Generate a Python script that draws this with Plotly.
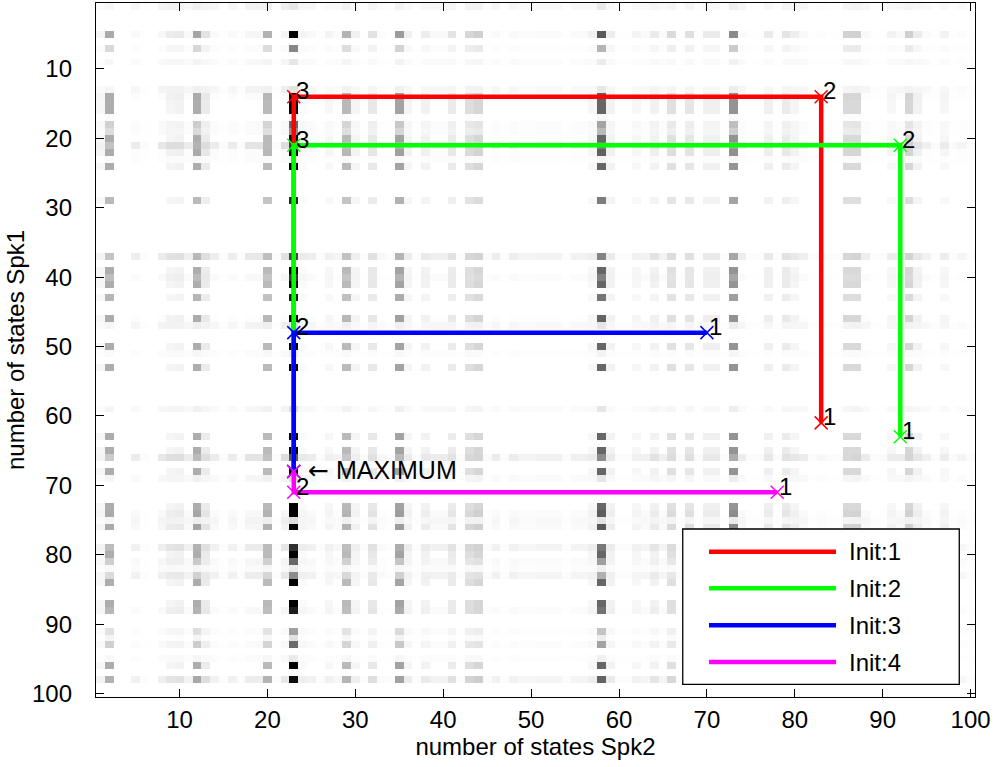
import numpy as np
import plotly.graph_objects as go

# ---------------- data ----------------
n_spk2 = 100   # columns (x)
n_spk1 = 100   # rows (y)

# vertical-stripe component: row weight and column weight (darkness)
row_stripe = {1: 0.03, 5: 1.0, 7: 0.45, 9: 0.06, 13: 0.04, 14: 1.0, 15: 1.0, 16: 1.0,
              17: 0.05, 18: 0.55, 19: 0.4, 20: 1.0, 21: 0.6, 22: 1.0, 23: 0.04, 24: 1.0,
              29: 0.85, 37: 0.6, 39: 1.0, 40: 0.75, 41: 1.0, 43: 0.9, 46: 1.0, 47: 0.05,
              50: 1.0, 51: 0.04, 53: 1.0, 59: 0.08, 63: 1.0, 65: 1.0, 66: 0.5, 68: 1.0,
              69: 0.08, 73: 1.0, 74: 1.0, 75: 0.06, 76: 1.0, 79: 0.7, 80: 1.0, 81: 0.55,
              82: 0.05, 83: 0.35, 84: 1.0, 87: 1.0, 88: 0.85, 91: 0.35, 92: 0.12, 93: 0.55,
              95: 0.06, 96: 1.0, 98: 0.85}
col_stripe = {1: 0.03, 2: 0.32, 9: 0.04, 10: 0.05, 12: 0.32, 13: 0.08, 20: 0.27, 23: 1.0,
              24: 0.02, 27: 0.03, 29: 0.27, 30: 0.04, 32: 0.09, 35: 0.36, 36: 0.04, 38: 0.05,
              41: 0.08, 43: 0.13, 44: 0.16, 57: 0.03, 58: 0.6, 59: 0.05, 62: 0.03, 64: 0.05,
              66: 0.12, 68: 0.1, 70: 0.06, 71: 0.06, 73: 0.42, 77: 0.06, 79: 0.08, 80: 0.04,
              86: 0.15, 87: 0.15, 91: 0.03, 93: 0.16, 94: 0.05, 97: 0.03}

# horizontal-band component: row weight and column weight (darkness)
row_band = {1: 0.35, 5: 0.25, 7: 0.1, 9: 0.2, 13: 0.35, 14: 0.1, 18: 0.15, 19: 0.15,
            21: 0.75, 22: 0.1, 23: 0.1, 37: 0.65, 40: 0.2, 46: 0.06, 47: 0.35, 51: 0.12,
            59: 0.25, 66: 0.75, 69: 0.25, 74: 0.2, 75: 0.35, 76: 0.25, 79: 0.55, 81: 0.25,
            82: 0.15, 83: 0.5, 88: 0.2, 91: 0.12, 93: 0.15, 95: 0.12, 98: 0.5}
col_band = [0.04, 0.06, 0, 0, 0.1, 0.02, 0, 0.12, 0.14, 0.14,
            0.1, 0.14, 0.12, 0.1, 0.02, 0.1, 0.02, 0.14, 0.14, 0.14,
            0.02, 0.18, 0.2, 0.1, 0.1, 0.02, 0.06, 0.06, 0.12, 0.06,
            0.02, 0.1, 0.04, 0.02, 0.12, 0.08, 0.02, 0.08, 0.1, 0.1,
            0.1, 0.02, 0.12, 0.12, 0.03, 0.1, 0.02, 0.1, 0.06, 0.06,
            0.08, 0.08, 0.08, 0.02, 0.08, 0.08, 0.08, 0.2, 0.08, 0.02,
            0.02, 0.06, 0.08, 0.12, 0.08, 0.1, 0.02, 0.1, 0.02, 0.08,
            0.08, 0.02, 0.15, 0.1, 0.02, 0.02, 0.08, 0.02, 0.1, 0.1,
            0.1, 0.02, 0.04, 0.02, 0.02, 0.1, 0.12, 0.1, 0.02, 0.02,
            0.08, 0.1, 0.12, 0.1, 0.08, 0.02, 0.08, 0.02, 0.06, 0.02]

# search paths (x = states Spk2, y = states Spk1)
series_names = ["Init:1", "Init:2", "Init:3", "Init:4"]
series_colors = ["#ff0000", "#00ff00", "#0000ff", "#ff00ff"]
path_x = [[83, 83, 23, 23], [92, 92, 23, 23], [70, 23, 23], [78, 23, 23]]
path_y = [[61, 14, 14, 68], [63, 21, 21, 68], [48, 48, 68], [71, 71, 68]]
path_labels = [["1", "2", "3", ""], ["1", "2", "3", ""], ["1", "2", ""], ["1", "2", ""]]
max_point = (23, 68)
max_text = "<span style='font-family:DejaVu Sans'>\u2190</span> MAXIMUM"

tick_vals = list(range(10, 101, 10))
x_title = "number of states Spk2"
y_title = "number of states Spk1"

# ---------------- build figure ----------------
xs = np.arange(1, n_spk2 + 1)
ys = np.arange(1, n_spk1 + 1)
rv = np.array([row_stripe.get(i, 0.0) for i in ys])
cv = np.array([col_stripe.get(j, 0.0) for j in xs])
rb = np.array([row_band.get(i, 0.0) for i in ys])
cb = np.array(col_band)
z = np.clip(np.outer(rv, cv) + np.outer(rb, cb), 0, 1)

FONT = "Liberation Sans, Arial, Helvetica, sans-serif"
FS = 24

fig = go.Figure()
fig.add_trace(go.Heatmap(x=xs, y=ys, z=z, zmin=0, zmax=1,
                         colorscale=[[0, "#ffffff"], [1, "#000000"]],
                         showscale=False, hoverinfo="skip"))

for name, col, px, py in zip(series_names, series_colors, path_x, path_y):
    fig.add_trace(go.Scatter(x=px, y=py, mode="lines+markers", name=name,
                             line=dict(color=col, width=4.5),
                             marker=dict(symbol="x-thin", size=13,
                                         line=dict(color=col, width=1.5)),
                             showlegend=False))

annotations = []
for px, py, labs in zip(path_x, path_y, path_labels):
    for xv, yv, t in zip(px, py, labs):
        if t:
            annotations.append(dict(x=xv, y=yv, text=t, showarrow=False,
                                    xanchor="left", yanchor="middle",
                                    xshift=0, yshift=6,
                                    font=dict(family=FONT, size=FS, color="black")))
annotations.append(dict(x=max_point[0], y=max_point[1], text=max_text, showarrow=False,
                        xanchor="left", yanchor="middle", xshift=12, yshift=1,
                        font=dict(family=FONT, size=FS + 1, color="black")))

# manual legend (paper coordinates)
shapes = [dict(type="rect", xref="paper", yref="paper", x0=0.6675, x1=0.9821,
               y0=0.0183, y1=0.2421, line=dict(color="black", width=1.3),
               fillcolor="white", layer="above")]
leg_y = [0.2094, 0.1566, 0.1033, 0.0504]
for name, col, ly in zip(series_names, series_colors, leg_y):
    shapes.append(dict(type="line", xref="paper", yref="paper", x0=0.6974, x1=0.8419,
                       y0=ly, y1=ly, line=dict(color=col, width=4.5), layer="above"))
    annotations.append(dict(xref="paper", yref="paper", x=0.8545, y=ly, text=name,
                            showarrow=False, xanchor="left", yanchor="middle",
                            font=dict(family=FONT, size=FS, color="black")))

axis_common = dict(showline=True, linecolor="black", linewidth=1.3, mirror="ticks",
                   ticks="inside", ticklen=8, tickwidth=1, tickcolor="black",
                   tickvals=tick_vals, showgrid=False, zeroline=False,
                   tickfont=dict(family=FONT, size=FS, color="black"))

fig.update_layout(
    width=996, height=767,
    margin=dict(l=96, r=21, t=3, b=70),
    paper_bgcolor="white", plot_bgcolor="white",
    xaxis=dict(range=[0.5, 100.5], ticklabelstandoff=1,
               title=dict(text=x_title, font=dict(family=FONT, size=FS, color="black"),
                          standoff=0),
               **axis_common),
    yaxis=dict(range=[100.5, 0.5], ticklabelstandoff=18,
               title=dict(text=y_title, font=dict(family=FONT, size=FS, color="black"),
                          standoff=0),
               **axis_common),
    shapes=shapes,
    annotations=annotations,
)

fig.write_html("out.html", config={"displayModeBar": False},
               post_script="document.body.style.margin='0';document.body.style.overflow='hidden';")
